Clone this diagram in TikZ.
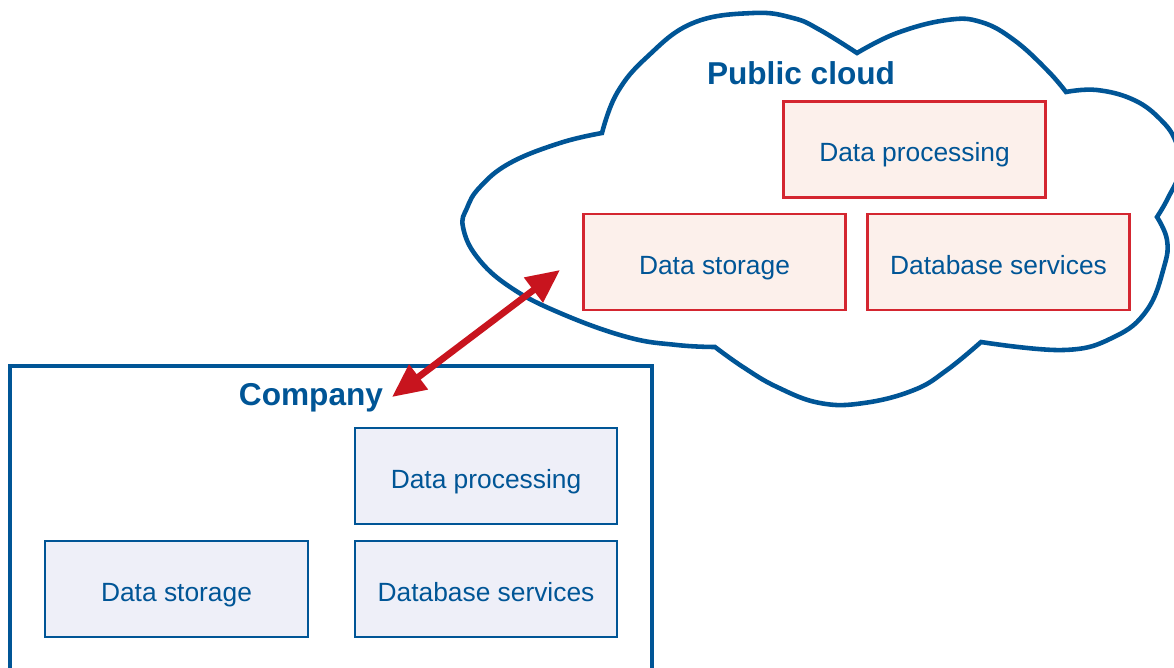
\documentclass[tikz,border=0pt]{standalone}
\usepackage{fontspec}
\setmainfont{Liberation Sans}
\usetikzlibrary{arrows.meta}
\definecolor{cblue}{RGB}{0,85,150}
\definecolor{cred}{RGB}{212,38,48}
\definecolor{pfill}{RGB}{252,240,235}
\definecolor{bfill}{RGB}{238,239,248}
\definecolor{arrred}{RGB}{200,20,30}
\begin{document}
\begin{tikzpicture}[x=0.02cm,y=-0.02cm,
  boxtext/.style={text=cblue, font=\fontsize{15}{18}\selectfont, inner sep=0pt,
    minimum width=5.25cm, minimum height=1.92cm, text height=14pt, text depth=0pt},
  cbox/.style={boxtext, draw=cblue, fill=bfill, line width=1.3pt},
  pbox/.style={boxtext, draw=cred, fill=pfill, line width=1.5pt},
  title/.style={text=cblue, font=\bfseries\fontsize{18}{21}\selectfont, inner sep=0pt},
  frame/.style={draw=cblue, line width=2.6pt},
  link/.style={draw=arrred, line width=3.8pt,
    {Triangle[length=19pt,width=17pt]}-{Triangle[length=19pt,width=17pt]}}
]
\useasboundingbox (0,0) rectangle (1174,667);
\clip (0,0) rectangle (1174,667);
\fill[white] (0,0) rectangle (1174,667);

% cloud outline
\draw[frame, fill=white]
  plot[smooth, tension=0.7] coordinates {(602,133) (617,93) (647,57) (693,23) (753,13) (793,18) (820,30) (857,53)}
  -- plot[smooth, tension=0.7] coordinates {(857,53) (897,33) (947,20) (981,22) (1014,40) (1047,70) (1066,92)}
  -- plot[smooth, tension=0.7] coordinates {(1066,92) (1097,90) (1134,100) (1161,120) (1176,142) (1181,168) (1168,198) (1157,217)}
  -- plot[smooth, tension=0.7] coordinates {(1157,217) (1167,240) (1164,267) (1147,310) (1114,337) (1064,350) (981,342)}
  -- plot[smooth, tension=0.7] coordinates {(981,342) (947,370) (914,390) (864,403) (820,403) (777,387) (743,367) (715,347)}
  -- plot[smooth, tension=0.7] coordinates {(715,347) (677,345) (627,337) (560,313) (510,287) (477,257) (463,227) (467,208) (480,187) (510,163) (560,143) (602,133)}
  -- cycle;

\node[title, anchor=base] (pubt) at (801,84) {Public cloud};
\node[pbox] (pproc) at (914.5,149.5) {Data processing};
\node[pbox] (pstore) at (714.5,262) {Data storage};
\node[pbox] (pdb) at (998.5,262) {Database services};

% company frame (open at the bottom edge of the picture)
\node[frame, inner sep=0pt, minimum width=12.84cm, minimum height=6.68cm] (company) at (331,533) {};
\node[title, anchor=base] (compt) at (311,405) {Company};
\node[cbox] (cproc) at (486,476) {Data processing};
\node[cbox] (cstore) at (176.5,589) {Data storage};
\node[cbox] (cdb) at (486,589) {Database services};

% link
\coordinate (lowtip) at (392,397);
\coordinate (uptip) at (560,270);
\draw[link] (lowtip) -- (uptip);
\end{tikzpicture}
\end{document}
